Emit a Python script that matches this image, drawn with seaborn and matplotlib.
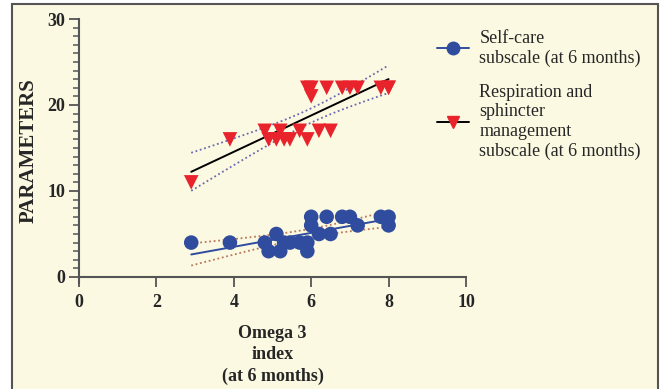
import numpy as np
import pandas as pd
import seaborn as sns
import matplotlib.pyplot as plt
from matplotlib.lines import Line2D
from matplotlib.patches import Rectangle

# Omega 3 index (at 6 months), one value per subject
omega3 = [2.9, 3.9, 4.8, 4.9, 5.1, 5.2, 5.3, 5.45, 5.7, 5.9, 5.9,
          6.0, 6.0, 6.2, 6.4, 6.5, 6.8, 7.0, 7.2, 7.8, 8.0, 8.0]
self_care = [4, 4, 4, 3, 5, 3, 4, 4, 4, 3, 4,
             7, 6, 5, 7, 5, 7, 7, 6, 7, 7, 6]
respiration = [11, 16, 17, 16, 16, 17, 16, 16, 17, 16, 22,
               22, 21, 17, 22, 17, 22, 22, 22, 22, 22, 22]

x_ticks = [0, 2, 4, 6, 8, 10]
y_ticks = [0, 10, 20, 30]
label_self = "Self-care\nsubscale (at 6 months)"
label_resp = "Respiration and\nsphincter\nmanagement\nsubscale (at 6 months)"

BG = "#fcf9e2"
BLUE = "#2f4c9e"
RED = "#e8232b"


def fit_with_ci(x, y, t=2.086):
    x = np.asarray(x, float)
    y = np.asarray(y, float)
    slope, icpt = np.polyfit(x, y, 1)
    xs = np.linspace(x.min(), x.max(), 60)
    yhat = slope * xs + icpt
    resid = y - (slope * x + icpt)
    s = np.sqrt(np.sum(resid ** 2) / (len(x) - 2))
    se = s * np.sqrt(1 / len(x) + (xs - x.mean()) ** 2 / np.sum((x - x.mean()) ** 2))
    return pd.DataFrame({"x": xs, "fit": yhat, "lo": yhat - t * se, "hi": yhat + t * se})


sns.set_style("ticks")
plt.rcParams["font.family"] = ["Liberation Serif", "DejaVu Serif"]

fig = plt.figure(figsize=(6.62, 3.89), dpi=100, facecolor="white")
fig.patches.append(Rectangle((12 / 662, -0.05), 646 / 662, 1.05 - 4 / 389,
                             transform=fig.transFigure, facecolor=BG,
                             edgecolor="#555555", linewidth=1.5, zorder=-10))
ax = fig.add_axes([79 / 662, (389 - 283) / 389, 387 / 662, (283 - 19) / 389])
ax.set_zorder(2)
ax.set_facecolor("none")

df = pd.DataFrame({"omega3": omega3, "self_care": self_care, "respiration": respiration})

# regression lines with 95% CI (dotted)
fr = fit_with_ci(omega3, respiration)
fb = fit_with_ci(omega3, self_care)
sns.lineplot(data=fr, x="x", y="fit", color="black", lw=1.4, ax=ax)
sns.lineplot(data=fr, x="x", y="lo", color="#6a6aae", lw=1.3, ls=(0, (1, 1.5)), ax=ax)
sns.lineplot(data=fr, x="x", y="hi", color="#6a6aae", lw=1.3, ls=(0, (1, 1.5)), ax=ax)
sns.lineplot(data=fb, x="x", y="fit", color=BLUE, lw=1.4, ax=ax)
sns.lineplot(data=fb, x="x", y="lo", color="#b8785a", lw=1.3, ls=(0, (1, 1.5)), ax=ax)
sns.lineplot(data=fb, x="x", y="hi", color="#b8785a", lw=1.3, ls=(0, (1, 1.5)), ax=ax)

sns.scatterplot(data=df, x="omega3", y="self_care", marker="o", s=110,
                color=BLUE, edgecolor="none", ax=ax, zorder=3)
sns.scatterplot(data=df, x="omega3", y="respiration", marker="v", s=110,
                color=RED, edgecolor="none", ax=ax, zorder=3)

ax.set_xlim(0, 10)
ax.set_ylim(-0.7, 30)
ax.spines["bottom"].set_position(("data", 0))
ax.spines["left"].set_bounds(-0.7, 30)
ax.spines["bottom"].set_bounds(0, 10)
for side in ["top", "right"]:
    ax.spines[side].set_visible(False)
for side in ["left", "bottom"]:
    ax.spines[side].set_color("#555555")
    ax.spines[side].set_linewidth(1.5)

ax.set_xticks(x_ticks)
ax.set_yticks(y_ticks)
ax.set_yticks(np.arange(0, 31, 1), minor=True)
ax.tick_params(axis="both", which="major", length=7, width=1.3, color="#555555",
               labelsize=13, pad=3)
ax.tick_params(axis="x", pad=5)
ax.tick_params(axis="y", which="minor", length=4, width=1.1, color="#555555")
for lab in ax.get_xticklabels() + ax.get_yticklabels():
    lab.set_fontweight("bold")

ax.set_xlabel("Omega 3\nindex\n(at 6 months)", fontsize=13, fontweight="bold",
              labelpad=10, linespacing=1.35)
ax.set_ylabel("PARAMETERS", fontsize=15, fontweight="bold", labelpad=6)

handles = [
    Line2D([], [], color=BLUE, marker="o", markersize=9, lw=1.4),
    Line2D([], [], color="black", marker="v", markersize=9, lw=1.4,
           markerfacecolor=RED, markeredgecolor=RED),
]
leg = ax.legend(handles, [label_self, label_resp], loc="upper left",
                bbox_to_anchor=(0.925, 0.96), frameon=False, fontsize=13,
                handlelength=1.75, handletextpad=0.6, labelspacing=0.95,
                borderaxespad=0.0, borderpad=0.0)
leg.set_zorder(5)

fig.savefig("out.png", dpi=100, facecolor="white")
